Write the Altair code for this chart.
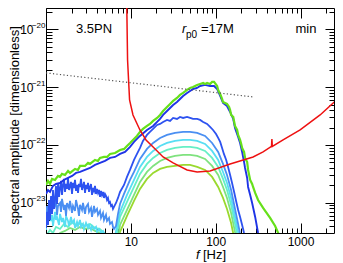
import altair as alt
import pandas as pd

# ---------------- data (frequency in Hz, log10 of spectral amplitude) ----------------
green_f = [1.0, 1.056, 1.115, 1.177, 1.277, 1.386, 1.46, 1.544, 1.675, 1.82, 1.92, 2.2, 2.38, 2.52, 2.88, 3.13, 3.30, 3.78, 4.1, 4.33, 4.83, 5.25, 5.69, 6.51, 7.46, 8.32, 9.0, 9.79, 10.6, 11.8, 12.8, 13.9, 15.5, 16.8, 18.3, 20.4, 22.1, 24.0, 26.7, 29.0, 31.5, 35.0, 38.0, 41.3, 46.0, 49.9, 54.1, 60.4, 65.5, 71.2, 75.0, 79.2, 85.9, 90.7, 95.7, 104, 107, 113, 119, 122, 129, 136, 144, 148, 152, 161, 169, 179, 184, 194, 200, 205, 216, 222, 235, 241, 255, 269, 276, 292, 316, 362, 438, 502, 545, 590]
green_logA = [-22.692, -22.623, -22.675, -22.588, -22.605, -22.536, -22.553, -22.501, -22.519, -22.449, -22.484, -22.415, -22.432, -22.363, -22.363, -22.311, -22.328, -22.259, -22.276, -22.224, -22.207, -22.207, -22.155, -22.138, -22.086, -22.068, -22.017, -21.965, -21.913, -21.843, -21.774, -21.722, -21.670, -21.636, -21.584, -21.532, -21.480, -21.411, -21.341, -21.289, -21.237, -21.185, -21.133, -21.099, -21.047, -21.012, -20.995, -20.960, -20.943, -20.926, -20.943, -20.926, -20.943, -20.908, -20.908, -20.978, -21.047, -21.116, -21.203, -21.255, -21.272, -21.289, -21.341, -21.393, -21.480, -21.514, -21.670, -21.740, -21.826, -21.913, -21.982, -22.051, -22.120, -22.224, -22.294, -22.432, -22.605, -22.675, -22.727, -22.830, -22.952, -23.090, -23.263, -23.402, -23.523, -23.644]

darkblue_f = [1.0, 1.056, 1.115, 1.209, 1.312, 1.46, 1.63, 1.82, 2.03, 2.26, 2.52, 2.88, 3.30, 3.78, 4.33, 4.96, 5.69, 6.51, 7.46, 8.54, 9.79, 10.9, 11.8, 12.8, 15.5, 18.3, 20.4, 22.1, 24.0, 26.7, 29.0, 31.5, 35.0, 38.0, 41.3, 46.0, 49.9, 54.1, 60.4, 65.5, 75.0, 85.9, 95.7, 104, 113, 122, 136, 148, 161, 169, 184, 194, 205, 216, 222, 235, 241, 255, 269, 292, 316, 334]
darkblue_logA = [-22.848, -22.779, -22.813, -22.709, -22.675, -22.657, -22.605, -22.571, -22.536, -22.484, -22.467, -22.432, -22.398, -22.346, -22.311, -22.276, -22.224, -22.207, -22.155, -22.120, -22.034, -21.947, -21.895, -21.843, -21.740, -21.670, -21.601, -21.549, -21.480, -21.411, -21.359, -21.307, -21.255, -21.203, -21.151, -21.099, -21.064, -21.030, -21.012, -20.978, -20.960, -20.978, -20.978, -21.030, -21.151, -21.272, -21.324, -21.428, -21.549, -21.705, -21.861, -21.965, -22.120, -22.294, -22.398, -22.571, -22.727, -22.865, -23.004, -23.246, -23.523, -23.644]

medblue_f = [1.000, 1.028, 1.056, 1.085, 1.115, 1.146, 1.177, 1.209, 1.243, 1.277, 1.312, 1.348, 1.386, 1.424, 1.463, 1.503, 1.544, 1.587, 1.630, 1.675, 1.721, 1.769, 1.817, 1.867, 1.919, 1.971, 2.026, 2.081, 2.139, 2.197, 2.258, 2.320, 2.384, 2.449, 2.517, 2.586, 2.657, 2.730, 2.805, 2.883, 2.962, 3.043, 3.127, 3.213, 3.301, 3.392, 3.486, 3.581, 3.680, 3.781, 3.885, 3.992, 4.102, 4.215, 4.331, 4.450, 4.572, 4.698, 4.827, 4.960, 5.097, 5.237, 5.381, 5.529, 5.681, 5.838, 5.998, 6.163, 6.333, 6.507, 6.686, 7.059,
             7.453, 8.308, 9.013, 9.777, 10.90, 11.82, 12.83, 13.9, 15.5, 16.8, 18.3, 20.4, 22.1, 24.0, 26.7, 29.0, 31.5, 35.0, 38.0, 41.3, 46.0, 49.9, 54.1, 60.4, 65.5, 71.2, 79.2, 85.9, 93.1, 101, 107, 113, 119, 125, 133, 140, 148, 156, 165, 174, 184, 194, 205, 216, 228]
medblue_logA = [-23.436, -23.159, -23.385, -22.952, -23.298, -22.882, -23.194, -22.779, -23.107, -22.934, -22.709, -23.021, -22.675, -22.900, -22.744, -22.623, -22.865, -22.692, -22.588, -22.813, -22.675, -22.761, -22.571, -22.779, -22.709, -22.640, -22.848, -22.657, -22.744, -22.605, -22.796, -22.692, -22.830, -22.675, -22.727, -22.588, -22.779, -22.709, -22.640, -22.830, -22.692, -22.761, -22.657, -22.813, -22.727, -22.675, -22.865, -22.744, -22.796, -22.709, -22.848, -22.761, -22.830, -22.779, -22.900, -22.796, -22.865, -22.813, -22.917, -22.848, -22.882, -22.952, -22.917, -23.004, -22.986, -23.056, -23.038, -23.107, -23.073, -23.038, -23.004, -22.917,
                -22.813, -22.692, -22.553, -22.432, -22.259, -22.155, -22.051, -21.930, -21.826, -21.774, -21.722, -21.653, -21.636, -21.601, -21.566, -21.584, -21.532, -21.549, -21.514, -21.532, -21.514, -21.532, -21.549, -21.549, -21.566, -21.601, -21.636, -21.688, -21.740, -21.809, -21.878, -21.947, -22.051, -22.155, -22.259, -22.380, -22.519, -22.657, -22.813, -22.969, -23.125, -23.246, -23.385, -23.523, -23.644]

cornflower_f = [1.000, 1.028, 1.056, 1.085, 1.115, 1.146, 1.177, 1.209, 1.243, 1.312, 1.348, 1.386, 1.463, 1.503, 1.544, 1.630, 1.675, 1.721, 1.769, 1.867, 1.919, 2.026, 2.081, 2.197, 2.258, 2.384, 2.449, 2.517, 2.657, 2.730, 2.883, 2.962, 3.127, 3.213, 3.392, 3.486, 3.680, 3.781, 3.992, 4.102, 4.331, 4.450, 4.698, 4.827, 5.097, 5.237, 5.529, 5.681, 5.998, 6.163, 6.333, 6.686, 7.059,
                7.453, 8.308, 9.013, 9.777, 10.90, 12.83, 15.5, 18.3, 22.1, 26.7, 33.2, 41.3, 49.9, 60.4, 75.0, 90.7, 107, 122, 136, 152, 169, 189, 200]
cornflower_logA = [-23.402, -23.056, -23.263, -22.986, -23.142, -22.917, -23.194, -23.021, -23.107, -22.952, -23.211, -23.056, -23.004, -23.159, -22.934, -23.125, -23.038, -23.229, -23.004, -23.090, -22.969, -23.177, -23.056, -23.142, -22.952, -23.107, -23.229, -23.038, -23.125, -23.004, -23.194, -23.073, -23.021, -23.159, -23.090, -23.246, -23.056, -23.159, -23.107, -23.211, -23.142, -23.263, -23.177, -23.298, -23.211, -23.315, -23.263, -23.367, -23.333, -23.419, -23.454, -23.402, -23.194,
                   -23.021, -22.848, -22.727, -22.605, -22.467, -22.242, -22.068, -21.965, -21.878, -21.826, -21.791, -21.774, -21.774, -21.791, -21.843, -21.965, -22.120, -22.328, -22.519, -22.779, -23.107, -23.454, -23.644]

cyan_f = [1.000, 1.028, 1.056, 1.085, 1.146, 1.177, 1.209, 1.277, 1.312, 1.348, 1.424, 1.463, 1.544, 1.587, 1.675, 1.721, 1.817, 1.867, 1.971, 2.026, 2.139, 2.197, 2.320, 2.384, 2.517, 2.586, 2.730, 2.805, 2.962, 3.127, 3.213, 3.392, 3.486, 3.680, 3.885, 3.992, 4.215, 4.450, 4.698, 4.960, 5.237, 6.333,
          6.870, 7.453, 9.013, 10.90, 12.83, 15.5, 18.3, 22.1, 26.7, 33.2, 41.3, 49.9, 60.4, 75.0, 90.7, 107, 122, 136, 152, 169, 189]
cyan_logA = [-23.471, -23.229, -23.367, -23.177, -23.315, -23.211, -23.402, -23.159, -23.298, -23.246, -23.385, -23.194, -23.333, -23.263, -23.419, -23.229, -23.315, -23.402, -23.246, -23.350, -23.298, -23.436, -23.333, -23.402, -23.298, -23.419, -23.367, -23.454, -23.350, -23.436, -23.385, -23.471, -23.402, -23.454, -23.419, -23.506, -23.454, -23.523, -23.488, -23.558, -23.610, -23.679,
             -23.402, -23.159, -22.865, -22.605, -22.380, -22.207, -22.103, -22.017, -21.965, -21.930, -21.913, -21.913, -21.930, -21.982, -22.103, -22.259, -22.467, -22.657, -22.917, -23.246, -23.592]

aqua_f = [1.000, 1.115, 1.209, 1.312, 1.463, 1.630, 1.817, 2.026, 2.258, 2.517, 2.883, 3.301, 3.781, 4.331, 4.960, 5.681, 6.686, 7.059, 7.453, 9.013, 10.90, 12.83, 15.5, 18.3, 22.1, 26.7, 33.2, 41.3, 49.9, 60.4, 75.0, 90.7, 107, 122, 136, 152, 169, 184]
aqua_logA = [-23.575, -23.471, -23.523, -23.419, -23.454, -23.367, -23.419, -23.333, -23.402, -23.350, -23.402, -23.367, -23.436, -23.454, -23.540, -23.679, -23.644, -23.436, -23.246, -22.986, -22.727, -22.501, -22.328, -22.224, -22.138, -22.086, -22.051, -22.034, -22.034, -22.051, -22.103, -22.224, -22.380, -22.588, -22.779, -23.038, -23.367, -23.644]

lightgreen_f = [1.0, 1.277, 1.463, 1.675, 1.919, 2.197, 2.517, 2.883, 3.301, 3.781, 4.331, 4.960, 7.059, 7.453, 9.013, 10.90, 12.83, 15.5, 18.3, 22.1, 26.7, 33.2, 41.3, 49.9, 60.4, 75.0, 90.7, 107, 122, 136, 152, 169, 179]
lightgreen_logA = [-23.679, -23.610, -23.523, -23.488, -23.436, -23.471, -23.419, -23.454, -23.436, -23.488, -23.523, -23.644, -23.644, -23.385, -23.125, -22.865, -22.640, -22.467, -22.363, -22.276, -22.224, -22.190, -22.172, -22.172, -22.190, -22.242, -22.363, -22.519, -22.727, -22.917, -23.177, -23.506, -23.679]

yellowgreen_f = [7.059, 7.453, 9.013, 10.90, 12.83, 15.5, 18.3, 22.1, 26.7, 33.2, 41.3, 49.9, 60.4, 75.0, 90.7, 107, 122, 136, 152, 165]
yellowgreen_logA = [-23.644, -23.506, -23.229, -22.969, -22.761, -22.588, -22.484, -22.415, -22.380, -22.363, -22.346, -22.346, -22.380, -22.432, -22.553, -22.727, -22.917, -23.107, -23.350, -23.610]

red_f = [8.9, 9.15, 9.66, 10.6, 12.8, 15.1, 18.3, 24.0, 31.5, 46.0, 60.4, 85.9, 148, 276, 362, 455, 460, 465, 623, 989, 1702, 3000]
red_logA = [-19.315, -20.527, -21.220, -21.480, -21.740, -21.913, -22.034, -22.207, -22.311, -22.432, -22.467, -22.449, -22.328, -22.207, -22.120, -22.025, -21.895, -22.025, -21.913, -21.740, -21.480, -21.151]

dotted_f = [1.0, 276]
dotted_logA = [-20.752, -21.168]

smooth_names = ["yellowgreen", "lightgreen", "aqua", "cyan", "cornflower"]
smooth_colors = ["#9ad92e", "#7fe27e", "#66efc6", "#58def3", "#4a8ff2"]

x_major = [1, 10, 100, 1000]
x_minor = [2, 3, 4, 5, 6, 7, 8, 9, 20, 30, 40, 50, 60, 70, 80, 90,
           200, 300, 400, 500, 600, 700, 800, 900, 2000]
y_major = [1e-23, 1e-22, 1e-21, 1e-20]
y_minor = [4e-24, 5e-24, 6e-24, 7e-24, 8e-24, 9e-24,
           2e-23, 3e-23, 4e-23, 5e-23, 6e-23, 7e-23, 8e-23, 9e-23,
           2e-22, 3e-22, 4e-22, 5e-22, 6e-22, 7e-22, 8e-22, 9e-22,
           2e-21, 3e-21, 4e-21, 5e-21, 6e-21, 7e-21, 8e-21, 9e-21, 2e-20]


def frame(name, f, logA):
    return pd.DataFrame({"series": name, "f": f, "A": [10 ** v for v in logA],
                         "i": list(range(len(f)))})


series_data = {
    "yellowgreen": (yellowgreen_f, yellowgreen_logA),
    "lightgreen": (lightgreen_f, lightgreen_logA),
    "aqua": (aqua_f, aqua_logA),
    "cyan": (cyan_f, cyan_logA),
    "cornflower": (cornflower_f, cornflower_logA),
}
smooth_df = pd.concat([frame(n, *series_data[n]) for n in smooth_names], ignore_index=True)
med_df = frame("medblue", medblue_f, medblue_logA)
dark_df = frame("darkblue", darkblue_f, darkblue_logA)
green_df = frame("green", green_f, green_logA)
red_df = frame("red", red_f, red_logA)
dot_df = frame("dotted", dotted_f, dotted_logA)

# ---------------- layout ----------------
W, H = 288, 225
FONT = "Liberation Sans"
xscale = alt.Scale(type="log", domain=[1, 2481], nice=False)
yscale = alt.Scale(type="log", domain=[10 ** -23.524, 10 ** -19.628], nice=False)


def tick_axis(orient, values, size, offset):
    return alt.Axis(orient=orient, values=values, offset=offset, labels=False, domain=False,
                    grid=False, ticks=True, tickSize=size, tickColor="black", tickWidth=1,
                    title=None)


x_label_axis = alt.Axis(orient="bottom", values=[10, 100, 1000], format="d", ticks=False,
                        tickSize=0, domain=False, grid=False, title=None, labelFont=FONT,
                        labelFontSize=12, labelColor="black", labelPadding=3,
                        labelFlush=False, labelOverlap=False)
y_label_axis = alt.Axis(orient="left", values=y_major, labelExpr="'10'", ticks=False, tickSize=0,
                        domain=False, grid=False, labelFont=FONT, labelFontSize=12,
                        labelColor="black", labelPadding=13, labelFlush=False,
                        labelOverlap=False, title="spectral amplitude [dimensionless]",
                        titleFont=FONT, titleFontSize=13, titleFontWeight="normal",
                        titleColor="black", titleX=-32, titleY=117, titleAlign="center",
                        titleBaseline="middle", titleAngle=270)
exp_expr = ("datum.value > 5e-21 ? '\u221220' : datum.value > 5e-22 ? '\u221221' : "
            "datum.value > 5e-23 ? '\u221222' : '\u221223'")
y_exp_axis = alt.Axis(orient="left", values=y_major, labelExpr=exp_expr, ticks=False, tickSize=0,
                      domain=False, grid=False, labelFont=FONT, labelFontSize=8,
                      labelColor="black", labelPadding=1, labelOffset=-4, labelFlush=False,
                      labelOverlap=False, title=None)


def enc(chart, xaxis, yaxis):
    return chart.encode(
        x=alt.X("f:Q", scale=xscale, axis=xaxis),
        y=alt.Y("A:Q", scale=yscale, axis=yaxis),
        order="i:Q",
    )


smooth = enc(alt.Chart(smooth_df).mark_line(clip=True, strokeWidth=1.8),
             x_label_axis, y_label_axis).encode(
    color=alt.Color("series:N", scale=alt.Scale(domain=smooth_names, range=smooth_colors),
                    legend=None))
med = enc(alt.Chart(med_df).mark_line(clip=True, strokeWidth=1.8, color="#2d52f0"),
          tick_axis("top", x_major, 10, -H), y_exp_axis)
dark = enc(alt.Chart(dark_df).mark_line(clip=True, strokeWidth=1.9, color="#1e34e6"),
           tick_axis("top", x_minor, 5, -H), tick_axis("right", y_major, 12, -W))
green = enc(alt.Chart(green_df).mark_line(clip=True, strokeWidth=2.2, color="#66e01a"),
            tick_axis("bottom", x_major, 10, -H), tick_axis("right", y_minor, 6, -W))
red = enc(alt.Chart(red_df).mark_line(clip=True, strokeWidth=1.5, color="#ee1111"),
          tick_axis("bottom", x_minor, 5, -H), tick_axis("left", y_major, 9, -W))
dotted = enc(alt.Chart(dot_df).mark_line(clip=True, strokeWidth=1.2, color="#555555",
                                         strokeDash=[1.2, 2.3]),
             None, tick_axis("left", y_minor, 5, -W))


def label(text, x, y, size=13, style="normal", align="left", baseline="middle"):
    return alt.Chart(pd.DataFrame({"t": [text]})).mark_text(
        font=FONT, fontSize=size, fontStyle=style, align=align, baseline=baseline,
        color="black").encode(x=alt.value(x), y=alt.value(y), text="t:N")


texts = [
    label("3.5PN", 48, 21, align="center"),
    label("r", 136, 21, style="italic"),
    label("p0", 140, 27, size=10),
    label("=17M", 155, 21),
    label("min", 260, 21, align="center"),
    label("f", 150, 251, size=13, style="italic", baseline="alphabetic"),
    label("[Hz]", 157, 251, size=13, baseline="alphabetic"),
]

chart = alt.layer(smooth, med, dark, green, red, dotted, *texts).resolve_axis(
    x="independent", y="independent"
).properties(
    width=W, height=H,
    autosize=alt.AutoSizeParams(type="none"),
    padding={"left": 38, "top": 0, "right": 1, "bottom": 30},
).configure_view(stroke="black", strokeWidth=1)

chart.save("out.html", embed_options={"renderer": "svg", "actions": False})
